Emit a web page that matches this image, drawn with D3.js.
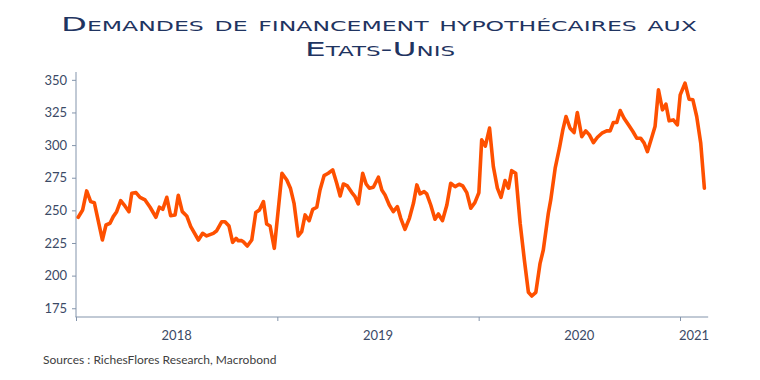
<!DOCTYPE html>
<html><head><meta charset="utf-8">
<script src="https://cdn.jsdelivr.net/npm/d3@7"></script>
<style>
html,body{margin:0;padding:0;background:#fff;}
svg{display:block;}
</style></head>
<body><svg id="c" width="760" height="380"></svg>
<script>
// time expressed in decimal years
const times = [
2018.011,2018.033,2018.053,2018.073,2018.091,2018.131,2018.149,2018.169,2018.185,2018.202,
2018.222,2018.243,2018.263,2018.277,2018.298,2018.318,2018.343,2018.368,2018.397,2018.414,
2018.431,2018.451,2018.470,2018.492,2018.508,2018.528,2018.550,2018.570,2018.608,2018.629,
2018.649,2018.682,2018.699,2018.724,2018.740,2018.760,2018.778,2018.795,2018.806,2018.823,
2018.831,2018.851,2018.873,2018.893,2018.911,2018.931,2018.947,2018.964,2018.985,2019.023,
2019.047,2019.065,2019.083,2019.104,2019.121,2019.138,2019.158,2019.176,2019.196,2019.212,
2019.232,2019.253,2019.275,2019.295,2019.312,2019.328,2019.348,2019.370,2019.386,2019.402,
2019.424,2019.441,2019.457,2019.477,2019.502,2019.519,2019.535,2019.556,2019.576,2019.596,
2019.613,2019.634,2019.656,2019.676,2019.693,2019.709,2019.729,2019.742,2019.762,2019.783,
2019.800,2019.820,2019.842,2019.861,2019.883,2019.903,2019.921,2019.941,2019.961,2019.981,
2020.001,2020.015,2020.033,2020.054,2020.073,2020.093,2020.111,2020.131,2020.148,2020.164,
2020.184,2020.206,2020.227,2020.247,2020.264,2020.284,2020.305,2020.321,2020.346,2020.358,
2020.380,2020.401,2020.418,2020.434,2020.454,2020.474,2020.490,2020.512,2020.532,2020.550,
2020.570,2020.590,2020.612,2020.636,2020.653,2020.669,2020.686,2020.703,2020.722,2020.744,
2020.766,2020.785,2020.805,2020.822,2020.838,2020.860,2020.876,2020.893,2020.913,2020.930,
2020.946,2020.967,2020.987,2021.001,2021.025,2021.045,2021.064,2021.083,2021.103,2021.121
];
const values = [
244.7,250.3,264.9,256.7,255.9,227.3,238.8,240.1,245.2,249.0,
257.4,253.4,249.0,263.1,263.6,260.0,258.0,252.4,244.7,252.4,
250.8,260.0,245.9,246.5,261.6,249.0,245.7,237.5,227.3,232.4,
230.4,232.4,234.4,241.3,241.3,238.0,225.5,228.6,226.8,226.8,
226.0,222.7,227.3,248.3,250.3,256.7,239.6,238.0,220.9,278.4,
273.3,267.0,255.4,230.4,233.7,246.5,242.1,250.8,252.4,265.6,
276.6,278.4,281.0,270.8,261.0,270.2,268.7,263.6,260.5,254.9,
278.4,270.2,267.0,267.7,275.4,265.6,261.8,254.1,249.0,252.9,
243.9,235.5,243.9,255.4,269.5,262.6,264.3,262.6,254.1,243.2,
247.2,242.1,254.1,270.8,268.2,270.0,268.7,263.6,251.6,255.9,
263.5,304.0,299.2,313.0,283.5,267.0,260.0,272.8,267.0,280.4,
278.4,240.1,212.0,187.2,184.4,187.2,209.4,219.6,247.8,258.0,
282.3,297.6,311.7,321.9,312.9,309.6,324.9,306.5,310.9,307.8,
301.9,306.0,309.1,310.9,310.9,317.3,317.3,326.5,320.6,315.5,
310.4,305.3,305.3,301.5,295.0,306.0,314.2,342.3,327.0,331.4,
318.6,319.3,315.5,338.5,347.4,335.2,334.7,321.9,301.5,267.0
];
const yTicks = [175,200,225,250,275,300,325,350];
const yearTicks = [2018,2019,2020,2021];
const yearLabels = ["2018","2019","2020","2021"];
const titleLines = ["Demandes de financement hypothécaires aux","Etats-Unis"];
const sourceText = "Sources : RichesFlores Research, Macrobond";

const svg = d3.select("#c");
const axisColor = "#8394ab";
const textColor = "#3b4a66";
const font = "Lato, 'Open Sans', sans-serif";

const x = d3.scaleLinear().domain([2018, 2021]).range([76, 680]);
const xEnd = 2021.14;
const y = d3.scaleLinear().domain([168.3, 356]).range([317, 72]);

// title
svg.append("text").attr("x", 379).attr("y", 31).attr("text-anchor","middle")
  .attr("font-family","'DejaVu Sans', sans-serif").attr("font-size",20)
  .style("font-variant","small-caps").attr("fill","#1f3461")
  .attr("textLength", 636).attr("lengthAdjust","spacingAndGlyphs")
  .text(titleLines[0]);
svg.append("text").attr("x", 380).attr("y", 56).attr("text-anchor","middle")
  .attr("font-family","'DejaVu Sans', sans-serif").attr("font-size",20)
  .style("font-variant","small-caps").attr("fill","#1f3461")
  .attr("textLength", 150).attr("lengthAdjust","spacingAndGlyphs")
  .text(titleLines[1]);

// y axis
const gy = svg.append("g").attr("transform","translate(76,0)")
  .call(d3.axisLeft(y).tickValues(yTicks).tickSize(4).tickSizeOuter(0).tickPadding(5));
gy.select(".domain").attr("stroke", axisColor).attr("d", `M0,${y(356)}V${y(168.3)}`);
gy.selectAll(".tick line").attr("stroke", axisColor);
gy.selectAll(".tick text").attr("fill", textColor).attr("font-family", font).attr("font-size", 13);

// x axis
const gx = svg.append("g").attr("transform",`translate(0,${y(168.3)})`)
  .call(d3.axisBottom(x).tickValues(yearTicks).tickSize(4).tickSizeOuter(0).tickFormat(""));
gx.select(".domain").attr("stroke", axisColor).attr("d", `M${x(2018)-0.5},0H${x(xEnd)}`);
gx.selectAll(".tick line").attr("stroke", axisColor);

// year labels centred in each year span
svg.append("g").selectAll("text").data(yearLabels).join("text")
  .attr("x", (d,i) => (x(yearTicks[i]) + x(Math.min(yearTicks[i]+1, xEnd))) / 2)
  .attr("y", 340).attr("text-anchor","middle")
  .attr("font-family", font).attr("font-size", 13).attr("fill", textColor)
  .text(d => d);

// line
const data = times.map((t,i) => ({t, v: values[i]}));
svg.append("path").datum(data)
  .attr("fill","none").attr("stroke","#fe5000").attr("stroke-width",3.6)
  .attr("stroke-linejoin","round").attr("stroke-linecap","round")
  .attr("d", d3.line().x(d => x(d.t)).y(d => y(d.v)));

// source
svg.append("text").attr("x", 43).attr("y", 364)
  .attr("font-family", font).attr("font-size", 12).attr("fill", "#404040")
  .text(sourceText);
</script></body></html>
